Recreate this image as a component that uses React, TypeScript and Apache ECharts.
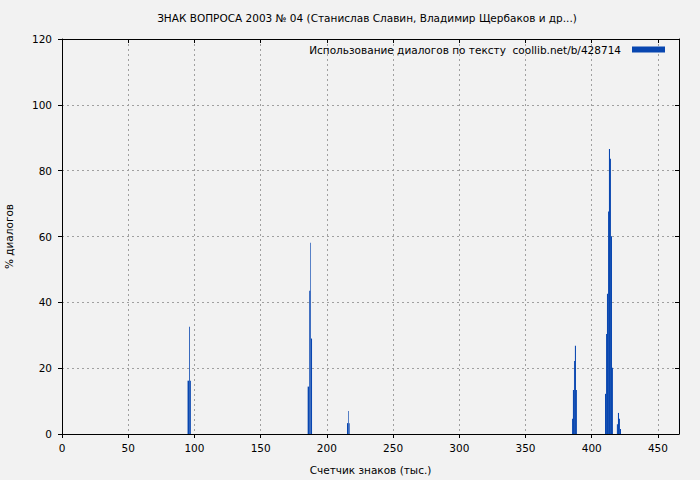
import React, { useEffect, useRef } from "react";
import * as echarts from "echarts";

const titleText = "ЗНАК ВОПРОСА 2003 № 04 (Станислав Славин, Владимир Щербаков и др...)";
const seriesName = "Использование диалогов по тексту  coollib.net/b/428714";
const xAxisName = "Счетчик знаков (тыс.)";
const yAxisName = "% диалогов";

// bin start / end (thousand chars) and percent of dialogues
const binStarts = [
  94.8, 95.9, 96.5,
  185.5, 186.7, 187.5, 188.0,
  215.2, 216.0, 216.5,
  385.1, 385.8, 386.6, 387.3, 388.1,
  410.0, 410.8, 411.5, 412.3, 413.0, 413.8, 414.5, 415.3,
  419.0, 419.8, 420.6, 421.3,
];
const binEnds = [
  95.9, 96.5, 97.3,
  186.7, 187.5, 188.0, 188.8,
  216.0, 216.5, 217.2,
  385.8, 386.6, 387.3, 388.1, 388.8,
  410.8, 411.5, 412.3, 413.0, 413.8, 414.5, 415.3, 416.0,
  419.8, 420.6, 421.3, 422.1,
];
const percents = [
  16.2, 32.6, 16.2,
  14.4, 43.5, 58.1, 29.0,
  3.3, 7.0, 3.3,
  4.6, 13.4, 22.2, 26.8, 13.4,
  12.2, 30.4, 42.6, 67.6, 86.6, 83.6, 60.1, 20.1,
  3.0, 6.4, 4.6, 1.5,
];

const FONT = "DejaVu Sans";
const FS = 10.5;
const BAR = "#0846b0";

export default function App() {
  const ref = useRef<HTMLDivElement>(null);
  useEffect(() => {
    document.body.style.margin = "0";
    const chart = echarts.init(ref.current!, null, { renderer: "svg" });
    const data = binStarts.map((s, i) => [s, binEnds[i], percents[i]]);
    const gridLine = { show: true, lineStyle: { color: "#a0a0a0", type: [2, 3] as any, width: 1 } };
    chart.setOption({
      animation: false,
      backgroundColor: "#f2f2f2",
      title: {
        text: titleText,
        left: 367,
        textAlign: "center",
        top: 12,
        padding: 0,
        textStyle: { fontFamily: FONT, fontSize: FS, fontWeight: "normal", color: "#000" },
      },
      legend: {
        right: 35,
        top: 44,
        padding: 0,
        align: "right",
        itemWidth: 33,
        itemHeight: 6,
        itemGap: 10,
        icon: "rect",
        textStyle: { fontFamily: FONT, fontSize: FS, color: "#000", padding: [0, 6, 0, 0] },
        data: [{ name: seriesName }],
      },
      grid: { left: 62, right: 21, top: 39, bottom: 46, containLabel: false, outerBoundsMode: "none" },
      xAxis: [
        {
          type: "value",
          min: 0,
          max: 465.9,
          interval: 50,
          name: xAxisName,
          nameLocation: "middle",
          nameGap: 30,
          nameTextStyle: { fontFamily: FONT, fontSize: FS, color: "#000" },
          axisLine: { show: true, onZero: false, lineStyle: { color: "#000", width: 1 } },
          axisTick: { show: true, inside: false, length: 4, lineStyle: { color: "#000" } },
          axisLabel: { fontFamily: FONT, fontSize: FS, color: "#000", margin: 8, showMaxLabel: false },
          splitLine: gridLine,
        },
        {
          type: "value",
          position: "top",
          min: 0,
          max: 465.9,
          interval: 50,
          axisLine: { show: true, onZero: false, lineStyle: { color: "#000", width: 1 } },
          axisTick: { show: true, inside: true, length: 4, lineStyle: { color: "#000" } },
          axisLabel: { show: false },
          splitLine: { show: false },
        },
      ],
      yAxis: [
        {
          type: "value",
          min: 0,
          max: 120,
          interval: 20,
          name: yAxisName,
          nameLocation: "middle",
          nameGap: 48,
          nameTextStyle: { fontFamily: FONT, fontSize: FS, color: "#000" },
          axisLine: { show: true, onZero: false, lineStyle: { color: "#000", width: 1 } },
          axisTick: { show: true, inside: false, length: 4, lineStyle: { color: "#000" } },
          axisLabel: { fontFamily: FONT, fontSize: FS, color: "#000", margin: 10 },
          splitLine: gridLine,
        },
        {
          type: "value",
          position: "right",
          min: 0,
          max: 120,
          interval: 20,
          axisLine: { show: true, onZero: false, lineStyle: { color: "#000", width: 1 } },
          axisTick: { show: true, inside: true, length: 4, lineStyle: { color: "#000" } },
          axisLabel: { show: false },
          splitLine: { show: false },
        },
      ],
      series: [
        {
          name: seriesName,
          type: "custom",
          xAxisIndex: 0,
          yAxisIndex: 0,
          itemStyle: { color: BAR },
          encode: { x: [0, 1], y: 2 },
          data,
          renderItem: (params: any, api: any) => {
            const x0 = api.value(0);
            const x1 = api.value(1);
            const y = api.value(2);
            const p0 = api.coord([x0, y]);
            const p1 = api.coord([x1, 0]);
            return {
              type: "rect",
              shape: { x: p0[0], y: p0[1], width: p1[0] - p0[0], height: p1[1] - p0[1] },
              style: { fill: BAR },
            };
          },
        },
      ],
    });
    return () => chart.dispose();
  }, []);
  return <div ref={ref} style={{ position: "absolute", left: 0, top: 0, width: 700, height: 480 }} />;
}
